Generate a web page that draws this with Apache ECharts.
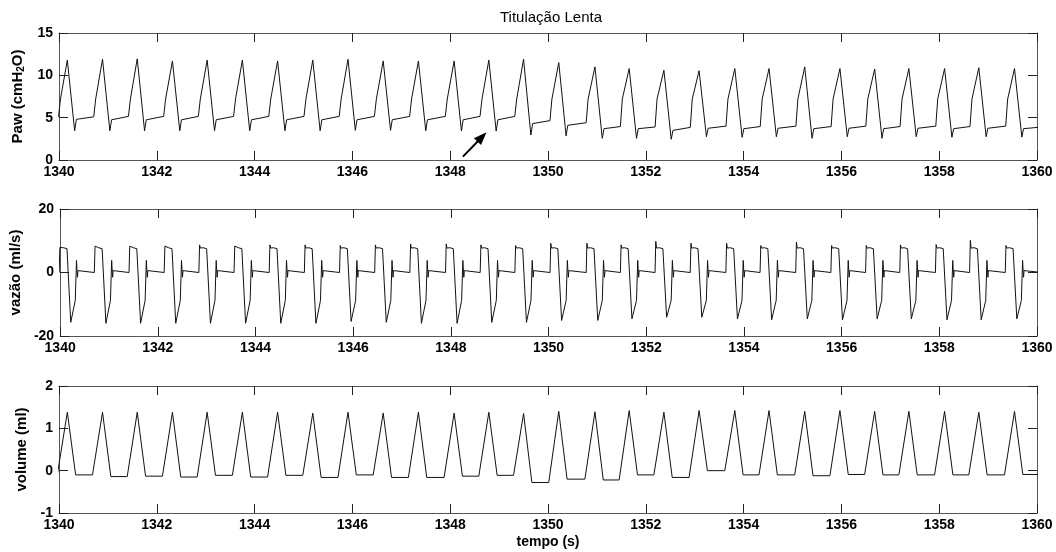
<!DOCTYPE html>
<html>
<head>
<meta charset="utf-8">
<script src="https://cdn.jsdelivr.net/npm/echarts@6/dist/echarts.min.js"></script>
<style>
  html, body { margin: 0; padding: 0; background: #fff; }
  #chart { width: 1056px; height: 552px; }
</style>
</head>
<body>
<div id="chart"></div>
<script>
// Time window and tick spacing (s)
const timeRange = [1340, 1360];
const timeStep = 2;

// Axis ranges and tick steps per panel: [min, max, step]
const pawAxis = [0, 15, 5];
const flowAxis = [-20, 20, 20];
const volAxis = [-1, 2, 1];

// Peak-inspiration instant of every breath (s)
const breathPeak = [1340.17, 1340.89, 1341.60, 1342.32, 1343.03, 1343.75, 1344.47,
  1345.19, 1345.91, 1346.63, 1347.35, 1348.08, 1348.79, 1349.50, 1350.22, 1350.96,
  1351.66, 1352.37, 1353.09, 1353.82, 1354.52, 1355.25, 1355.97, 1356.68, 1357.38,
  1358.11, 1358.81, 1359.54];

// Airway pressure (cmH2O): peak, post-expiration trough, pause start and pause end
const pawPeak = [11.8, 11.9, 11.95, 11.7, 11.8, 11.8, 11.7, 11.8, 11.9, 11.7, 11.7,
  11.7, 11.8, 11.9, 11.5, 11.0, 10.8, 10.6, 10.55, 10.8, 10.8, 11.0, 10.8, 10.75,
  10.8, 10.8, 10.9, 10.8];
const pawTrough = [3.45, 3.45, 3.45, 3.45, 3.45, 3.45, 3.45, 3.45, 3.5, 3.5, 3.45,
  3.42, 3.42, 2.95, 2.85, 2.56, 2.56, 2.45, 2.75, 2.68, 2.75, 2.56, 2.75, 2.56,
  2.75, 2.68, 2.75, 2.7];
const pawPauseStart = [4.8, 4.75, 4.75, 4.75, 4.75, 4.75, 4.75, 4.75, 4.75, 4.75,
  4.75, 4.75, 4.75, 4.3, 4.1, 3.7, 3.7, 3.5, 3.75, 3.7, 3.75, 3.7, 3.75, 3.7, 3.75,
  3.7, 3.75, 3.7];
const pawPauseEnd = [5.1, 5.15, 5.15, 5.15, 5.15, 5.15, 5.15, 5.15, 5.15, 5.15,
  5.15, 5.15, 5.15, 4.65, 4.4, 3.95, 3.9, 3.85, 4.0, 3.95, 4.0, 3.95, 4.0, 3.95,
  4.0, 3.95, 4.0, 3.9];
const pawKnee = 7.2;

// Flow (ml/s): start-of-inspiration overshoot and expiratory minimum
const flowInspPeak = [7.9, 8.3, 8.3, 8.3, 8.7, 8.3, 8.7, 8.7, 8.5, 8.7, 9.0, 9.0,
  8.7, 8.5, 9.2, 9.2, 8.7, 9.8, 9.2, 9.2, 8.5, 9.6, 8.5, 8.5, 8.7, 8.8, 10.1, 8.5];
const flowExpMin = [-15.7, -16.0, -16.0, -16.0, -16.0, -16.0, -16.0, -16.0, -15.4,
  -15.7, -16.0, -16.0, -15.7, -15.7, -15.1, -15.1, -14.6, -14.1, -14.1, -14.6,
  -14.9, -14.6, -14.9, -14.6, -14.6, -14.9, -14.9, -14.6];
const flowPlateau = [7.7, 7.8, 7.5, 7.0];  // inspiratory plateau levels
const flowExpKnee = -8.8;
const flowRebound = 3.8;

// Volume (ml): peak of each breath and level of the following pause
const volPeak = [1.38, 1.38, 1.38, 1.38, 1.38, 1.38, 1.38, 1.36, 1.38, 1.36, 1.38,
  1.36, 1.38, 1.35, 1.40, 1.39, 1.42, 1.38, 1.42, 1.42, 1.42, 1.40, 1.42, 1.40,
  1.40, 1.40, 1.38, 1.40];
const volPause = [-0.10, -0.14, -0.13, -0.15, -0.11, -0.15, -0.11, -0.16, -0.10,
  -0.16, -0.16, -0.13, -0.11, -0.28, -0.20, -0.22, -0.10, -0.16, 0.00, -0.10,
  -0.10, -0.12, -0.09, -0.10, -0.10, -0.10, -0.10, -0.09];

// Annotation arrow in the pressure panel (time, cmH2O)
const arrowFrom = [1348.26, 0.4];
const arrowTo = [1348.65, 2.72];

// Vertices of each breath, timed relative to its peak
function pawSeries() {
  const pts = [];
  breathPeak.forEach((p, i) => {
    const prevEnd = i > 0 ? pawPauseEnd[i - 1] : pawPauseEnd[0];
    pts.push([p - 0.18, prevEnd]);
    pts.push([p - 0.14, pawKnee]);
    pts.push([p, pawPeak[i]]);
    pts.push([p + 0.15, pawTrough[i]]);
    pts.push([p + 0.185, pawPauseStart[i]]);
  });
  pts.push([timeRange[1] + 0.1, pawPauseEnd[pawPauseEnd.length - 1]]);
  return pts;
}

function flowSeries() {
  const pts = [];
  breathPeak.forEach((p, i) => {
    pts.push([p - 0.19, 0]);
    pts.push([p - 0.175, flowInspPeak[i]]);
    pts.push([p - 0.16, flowPlateau[0]]);
    pts.push([p - 0.1, flowPlateau[1]]);
    pts.push([p - 0.03, flowPlateau[2]]);
    pts.push([p - 0.015, flowPlateau[3]]);
    pts.push([p + 0.047, flowExpMin[i]]);
    pts.push([p + 0.14, flowExpKnee]);
    pts.push([p + 0.165, flowRebound]);
    pts.push([p + 0.178, 0]);
    pts.push([p + 0.185, -1.5]);
    pts.push([p + 0.195, 0.6]);
    pts.push([p + 0.21, 0]);
  });
  pts.push([timeRange[1] + 0.1, 0]);
  return pts;
}

function volSeries() {
  const pts = [];
  breathPeak.forEach((p, i) => {
    const prev = i > 0 ? volPause[i - 1] : volPause[0];
    pts.push([p - 0.205, prev]);
    pts.push([p, volPeak[i]]);
    pts.push([p + 0.17, volPause[i]]);
  });
  pts.push([timeRange[1] + 0.1, volPause[volPause.length - 1]]);
  return pts;
}

const FONT = '"Liberation Sans", Arial, Helvetica, sans-serif';
const frameColor = '#555';
const tickStyle = { inside: true, length: 9, lineStyle: { color: '#222', width: 1 } };
const labelStyle = { fontSize: 14, fontWeight: 'bold', color: '#000', fontFamily: FONT };
const nameStyle = { fontSize: 15, fontWeight: 'bold', color: '#000', fontFamily: FONT };

const grids = [
  { left: 59, top: 33, width: 978, height: 127 },
  { left: 59, top: 209, width: 978, height: 127 },
  { left: 59, top: 386, width: 978, height: 127 }
];

function xAxes(gi, withName) {
  const base = {
    type: 'value', gridIndex: gi, min: timeRange[0], max: timeRange[1], interval: timeStep,
    axisLine: { show: true, onZero: false, lineStyle: { color: frameColor, width: 1 } },
    axisTick: tickStyle, splitLine: { show: false }
  };
  const bottom = Object.assign({}, base, {
    position: 'bottom',
    axisLabel: Object.assign({ margin: 5, showMinLabel: true, showMaxLabel: true,
      formatter: v => String(v) }, labelStyle)
  });
  if (withName) {
    bottom.name = 'tempo (s)';
    bottom.nameLocation = 'middle';
    bottom.nameGap = 22;
    bottom.nameTextStyle = Object.assign({}, labelStyle);
  }
  const top = Object.assign({}, base, { position: 'top', axisLabel: { show: false } });
  return [bottom, top];
}

function yAxes(gi, range, name, gap, rich) {
  const base = {
    type: 'value', gridIndex: gi, min: range[0], max: range[1], interval: range[2],
    axisLine: { show: true, onZero: false, lineStyle: { color: frameColor, width: 1 } },
    axisTick: tickStyle, splitLine: { show: false }
  };
  const left = Object.assign({}, base, {
    position: 'left',
    axisLabel: Object.assign({ margin: 6, showMinLabel: true, showMaxLabel: true,
      formatter: v => String(v) }, labelStyle),
    name: name, nameLocation: 'middle', nameGap: gap, nameRotate: 90,
    nameTextStyle: Object.assign({}, nameStyle, rich ? { rich: rich } : {})
  });
  const right = Object.assign({}, base, { position: 'right', axisLabel: { show: false } });
  return [left, right];
}

const subRich = {
  sub: { fontSize: 10, fontWeight: 'bold', fontFamily: FONT, color: '#000',
         verticalAlign: 'bottom', padding: [8, 0, 0, 0] }
};

const xAxis = [].concat(xAxes(0, false), xAxes(1, false), xAxes(2, true));
const yAxis = [].concat(
  yAxes(0, pawAxis, 'Paw (cmH{sub|2}O)', 32, subRich),
  yAxes(1, flowAxis, 'vazão (ml/s)', 32),
  yAxes(2, volAxis, 'volume (ml)', 23)
);

const lineBase = {
  type: 'line', showSymbol: false, symbol: 'none', animation: false, silent: true,
  lineStyle: { color: '#111', width: 1 }, clip: true, sampling: null
};

const option = {
  backgroundColor: '#fff',
  animation: false,
  title: {
    text: 'Titulação Lenta', left: 546, top: 5, textAlign: 'center',
    textStyle: { fontSize: 15, fontWeight: 'normal', color: '#000', fontFamily: FONT }
  },
  grid: grids,
  xAxis: xAxis,
  yAxis: yAxis,
  series: [
    Object.assign({}, lineBase, {
      name: 'Paw', xAxisIndex: 0, yAxisIndex: 0, data: pawSeries(),
      markLine: {
        silent: true, animation: false,
        symbol: ['none', 'triangle'], symbolSize: [10, 13],
        label: { show: false },
        lineStyle: { color: '#000', width: 2, type: 'solid' },
        emphasis: { disabled: true },
        data: [[{ coord: arrowFrom }, { coord: arrowTo }]]
      }
    }),
    Object.assign({}, lineBase, { name: 'vazão', xAxisIndex: 2, yAxisIndex: 2, data: flowSeries() }),
    Object.assign({}, lineBase, { name: 'volume', xAxisIndex: 4, yAxisIndex: 4, data: volSeries() })
  ]
};

const chart = echarts.init(document.getElementById('chart'), null, { renderer: 'canvas' });
chart.setOption(option);
</script>
</body>
</html>
